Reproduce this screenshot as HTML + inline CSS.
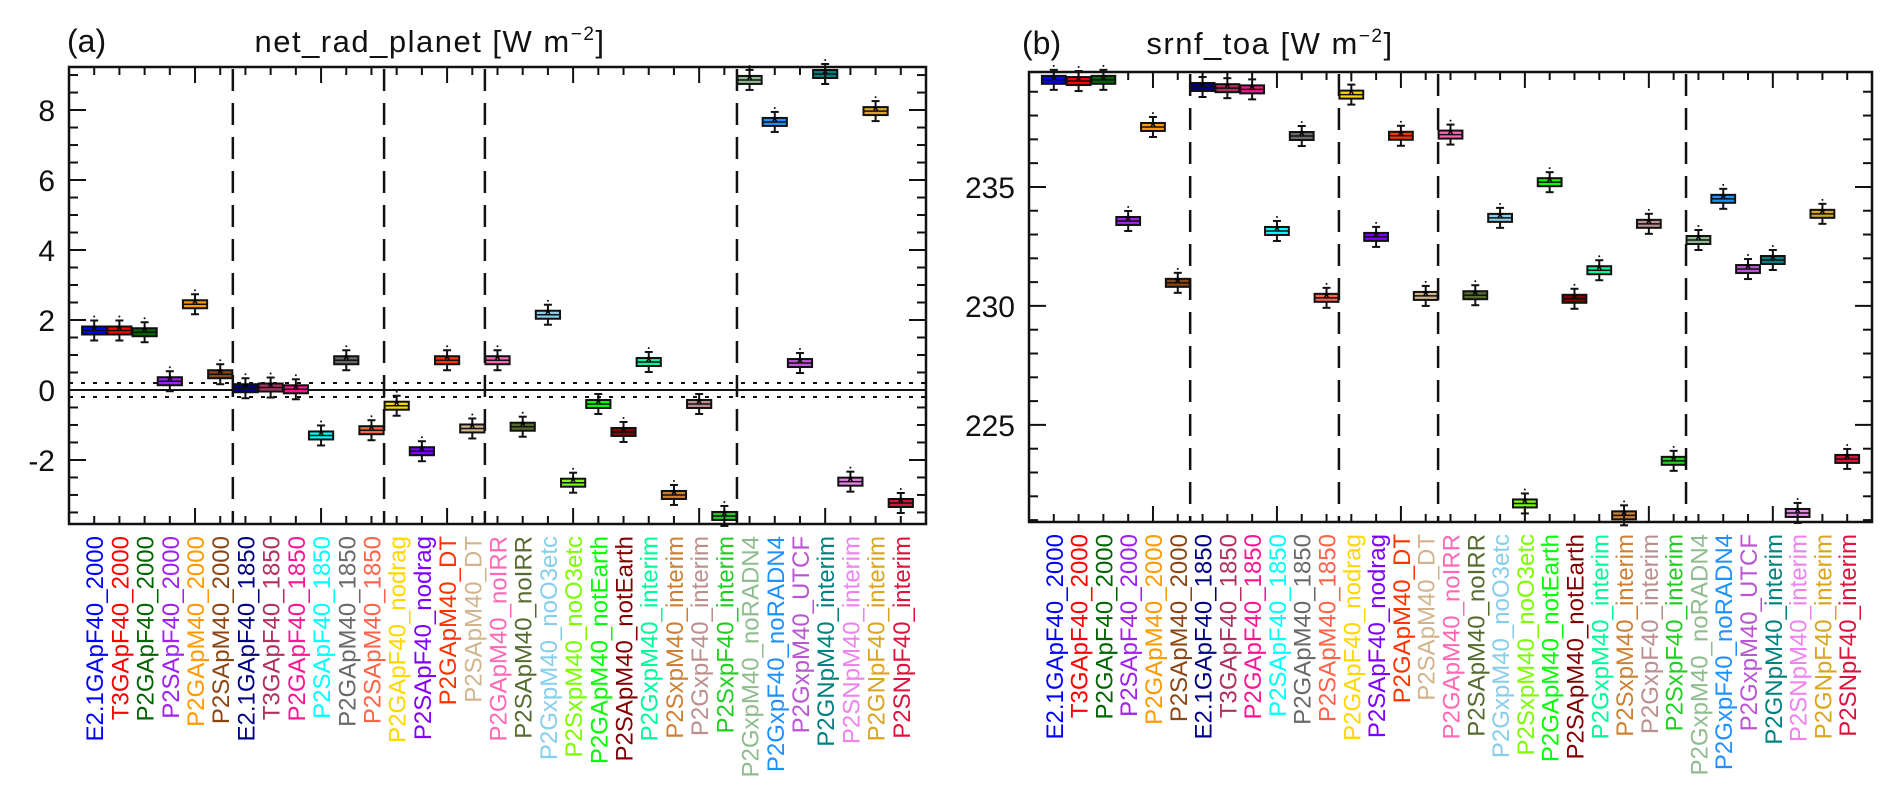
<!DOCTYPE html>
<html><head><meta charset="utf-8"><style>
html,body{margin:0;padding:0;background:#fff;}
svg{display:block;font-family:"Liberation Sans","DejaVu Sans",sans-serif;}
</style></head><body>
<svg id="chart" width="1892" height="794" viewBox="0 0 1892 794" xmlns="http://www.w3.org/2000/svg">
<text x="67" y="52" font-size="32" fill="#111">(a)</text>
<text x="430" y="52" font-size="31" letter-spacing="1.5" fill="#111" text-anchor="middle">net_rad_planet [W m<tspan font-size="19" dy="-12">−2</tspan><tspan dy="12">]</tspan></text>
<text x="1022" y="54" font-size="32" fill="#111">(b)</text>
<text x="1270" y="54" font-size="31" letter-spacing="1.5" fill="#111" text-anchor="middle">srnf_toa [W m<tspan font-size="19" dy="-12">−2</tspan><tspan dy="12">]</tspan></text>
<g id="pa"></g>
<g id="pb"></g>
</svg>
<script>
const categories = ["E2.1GApF40_2000","T3GApF40_2000","P2GApF40_2000","P2SApF40_2000","P2GApM40_2000","P2SApM40_2000",
"E2.1GApF40_1850","T3GApF40_1850","P2GApF40_1850","P2SApF40_1850","P2GApM40_1850","P2SApM40_1850",
"P2GApF40_nodrag","P2SApF40_nodrag","P2GApM40_DT","P2SApM40_DT",
"P2GApM40_noIRR","P2SApM40_noIRR","P2GxpM40_noO3etc","P2SxpM40_noO3etc","P2GApM40_notEarth","P2SApM40_notEarth","P2GxpM40_interim","P2SxpM40_interim","P2GxpF40_interim","P2SxpF40_interim",
"P2GxpM40_noRADN4","P2GxpF40_noRADN4","P2GxpM40_UTCF","P2GNpM40_interim","P2SNpM40_interim","P2GNpF40_interim","P2SNpF40_interim"];
const colors = ["#0000ff","#ff0000","#006400","#a020f0","#ff9900","#8b4513","#000080","#b03060","#ff1493","#00ffff","#696969","#ff6347",
"#ffd700","#7f00ff","#ff3300","#d2b48c","#ff69b4","#556b2f","#87ceeb","#7cfc00","#00ff00","#800000","#00fa9a","#cd7f32","#bc8f8f","#22cc22",
"#8fbc8f","#1e90ff","#ba55d3","#008080","#ee82ee","#daa520","#dc143c"];
const netRad = [1.7,1.7,1.65,0.25,2.45,0.45,0.05,0.07,0.02,-1.3,0.85,-1.15,-0.45,-1.75,0.85,-1.1,0.85,-1.05,2.15,-2.65,-0.4,-1.2,0.8,-3.0,-0.4,-3.6,8.86,7.66,0.77,9.03,-2.62,7.97,-3.23];
const srnf = [239.5,239.45,239.5,233.57,237.52,230.97,239.2,239.15,239.1,233.15,237.14,230.34,238.88,232.9,237.15,230.42,237.2,230.45,233.7,221.7,235.2,230.3,231.5,221.2,233.45,223.49,232.77,234.5,231.55,231.93,221.3,233.87,223.57];
const groupBreaks = [6.5,12.5,16.5,26.5];
const ticksA = [-2,0,2,4,6,8];
const ticksB = [225,230,235];

const NS="http://www.w3.org/2000/svg";
function mk(parent,tag,attrs){const e=document.createElementNS(NS,tag);for(const k in attrs)e.setAttribute(k,attrs[k]);parent.appendChild(e);return e;}

function panel(g,cfg,values){
  const {x0,x1,y0,y1,vmin,vmax,ticks,minor,boxH,whisk,refLines}=cfg;
  const n=categories.length;
  const xs=i=>x0+(i+1)*(x1-x0)/(n+1);
  const ys=v=>y1-(v-vmin)/(vmax-vmin)*(y1-y0);
  groupBreaks.forEach(b=>{
    const l=mk(g,'line',{x1:x0+b*(x1-x0)/(n+1),x2:x0+b*(x1-x0)/(n+1),y1:y0+2,y2:y1,stroke:'#111','stroke-width':2.5,'stroke-dasharray':'22,12'});
    
    
  });
  if(refLines){
    const z=mk(g,'line',{x1:x0,x2:x1,y1:ys(0),y2:ys(0),stroke:'#111','stroke-width':2});
    
    
    [0.2,-0.2].forEach(v=>{
      const d=mk(g,'line',{x1:x0,x2:x1,y1:ys(v),y2:ys(v),stroke:'#111','stroke-width':2,'stroke-dasharray':'4,8'});
      
      
    });
  }
  values.forEach((v,i)=>{
    const cx=xs(i),cy=ys(v),w=(x1-x0)/(n+1);
    const bg=mk(g,'g',{});
    
    
    mk(bg,'line',{x1:cx,x2:cx,y1:cy-whisk,y2:cy+whisk,stroke:'#111','stroke-width':2});
    mk(bg,'line',{x1:cx-4,x2:cx+4,y1:cy-whisk,y2:cy-whisk,stroke:'#111','stroke-width':2});
    mk(bg,'line',{x1:cx-4,x2:cx+4,y1:cy+whisk,y2:cy+whisk,stroke:'#111','stroke-width':2});
    mk(bg,'rect',{x:cx-w/2+0.5,y:cy-boxH,width:w-1,height:2*boxH,fill:colors[i],stroke:'#111','stroke-width':2});
    mk(bg,'line',{x1:cx-w/2+1,x2:cx+w/2-1,y1:cy,y2:cy,stroke:'#111','stroke-width':1.5});
    mk(bg,'text',{x:cx,y:cy+5,'font-size':16,'text-anchor':'middle',fill:'#000','font-weight':'bold'}).textContent='*';
    mk(bg,'circle',{cx:cx,cy:cy-whisk-4,r:1,fill:'#111'});
  });
  const ax=mk(g,'rect',{x:x0,y:y0,width:x1-x0,height:y1-y0,fill:'none',stroke:'#111','stroke-width':2.5});
  
  
  for(let v=Math.ceil(vmin/minor)*minor; v<=vmax+1e-9; v+=minor){
    const major=ticks.some(t=>Math.abs(t-v)<1e-6);
    const L=major?17:9;
    mk(g,'line',{x1:x0,x2:x0+L,y1:ys(v),y2:ys(v),stroke:'#111','stroke-width':2});
    mk(g,'line',{x1:x1,x2:x1-L,y1:ys(v),y2:ys(v),stroke:'#111','stroke-width':2});
  }
  ticks.forEach(t=>{
    const tl=mk(g,'text',{x:x0-14,y:ys(t)+11,'font-size':30,'text-anchor':'end',fill:'#111'});
    tl.textContent=t;
    
    
  });
  for(let i=1;i<=n;i++){
    const x=x0+i*(x1-x0)/(n+1);const L=(i%5===0)?16:8;
    mk(g,'line',{x1:x,x2:x,y1:y1,y2:y1-L,stroke:'#111','stroke-width':2});
    mk(g,'line',{x1:x,x2:x,y1:y0,y2:y0+L,stroke:'#111','stroke-width':2});
  }
  categories.forEach((c,i)=>{
    const x=xs(i)+9,y=y1+12;
    const t=mk(g,'text',{x:x,y:y,'font-size':24,'text-anchor':'end',fill:colors[i],transform:`rotate(-90 ${x} ${y})`});
    t.textContent=c;
    
    
  });
}
panel(document.getElementById('pa'),{x0:69,x1:926,y0:67,y1:524,vmin:-3.83,vmax:9.23,ticks:ticksA,minor:0.5,boxH:4,whisk:10,refLines:true},netRad);
panel(document.getElementById('pb'),{x0:1029,x1:1872,y0:72,y1:522,vmin:220.92,vmax:239.83,ticks:ticksB,minor:1,boxH:4,whisk:10,refLines:false},srnf);
</script>
</body></html>
